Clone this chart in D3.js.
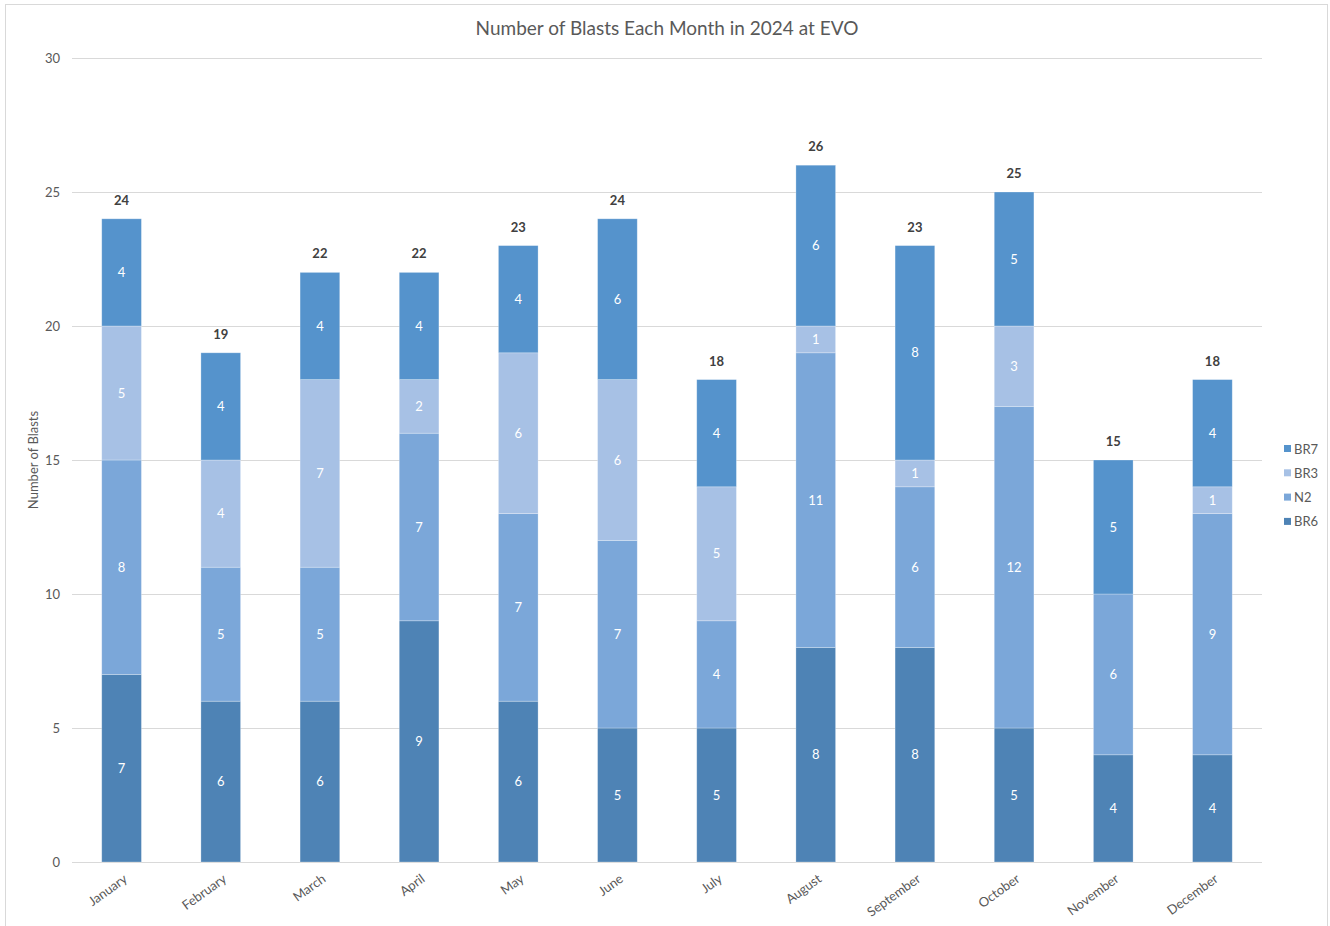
<!DOCTYPE html>
<html>
<head>
<meta charset="utf-8">
<script src="https://cdn.jsdelivr.net/npm/d3@7"></script>
<style>
body { margin: 0; background: #fff; font-family: Lato, 'Noto Sans', sans-serif; }
svg text { fill: #595959; }
</style>
</head>
<body>
<svg id="chart"></svg>
<script>
'use strict';
//Chart data.
const months = ['January', 'February', 'March', 'April', 'May', 'June', 'July', 'August', 'September', 'October', 'November', 'December'];
const seriesNames = ['BR6', 'N2', 'BR3', 'BR7']; //Bottom to top.
const br6 = [7, 6, 6, 9, 6, 5, 5, 8, 8, 5, 4, 4];
const n2 = [8, 5, 5, 7, 7, 7, 4, 11, 6, 12, 6, 9];
const br3 = [5, 4, 7, 2, 6, 6, 5, 1, 1, 3, 0, 1];
const br7 = [4, 4, 4, 4, 4, 6, 4, 6, 8, 5, 5, 4];
const yTicks = [0, 5, 10, 15, 20, 25, 30];

const colors = {BR6: '#4e83b5', N2: '#7ba7d9', BR3: '#a7c1e5', BR7: '#5593cc'};

const W = 1330, H = 926;
const svg = d3.select('#chart').attr('width', W).attr('height', H);

//Outer chart border.
svg.append('rect')
	.attr('x', 5.5).attr('y', 4.5)
	.attr('width', 1322).attr('height', 940)
	.style('fill', 'none')
	.style('stroke', '#d9d9d9')
	.style('stroke-width', '1px');

const plot = {left: 72, right: 1262, top: 58, bottom: 862};

//Build table rows for the stack.
const rows = months.map((m, i) => ({month: m, BR6: br6[i], N2: n2[i], BR3: br3[i], BR7: br7[i]}));
const stacked = d3.stack().keys(seriesNames)(rows);

const x = d3.scaleBand().domain(months).range([plot.left, plot.right]).paddingInner(0.6).paddingOuter(0.3);
const y = d3.scaleLinear().domain([0, 30]).range([plot.bottom, plot.top]);

//Grid lines.
svg.append('g')
	.selectAll('line')
	.data(yTicks)
	.join('line')
	.attr('x1', plot.left).attr('x2', plot.right)
	.attr('y1', d => y(d) + 0.5).attr('y2', d => y(d) + 0.5)
	.style('stroke', '#d9d9d9')
	.style('stroke-width', '1px');

//Y tick labels.
svg.append('g')
	.selectAll('text')
	.data(yTicks)
	.join('text')
	.attr('x', 60)
	.attr('y', d => y(d))
	.attr('dy', '0.35em')
	.attr('text-anchor', 'end')
	.style('font-size', '13px')
	.text(d => d);

//Bars.
const layers = svg.append('g')
	.selectAll('g')
	.data(stacked)
	.join('g')
	.style('fill', d => colors[d.key]);
layers.selectAll('rect')
	.data(d => d)
	.join('rect')
	.attr('x', d => x(d.data.month))
	.attr('width', x.bandwidth())
	.attr('y', d => y(d[1]))
	.attr('height', d => y(d[0]) - y(d[1]))
	.style('stroke', '#ffffff')
	.style('stroke-opacity', 0.35)
	.style('stroke-width', '0.75px');

//Segment labels, skipping zero segments.
layers.selectAll('text')
	.data(d => d.filter(s => s[1] - s[0] > 0))
	.join('text')
	.attr('x', d => x(d.data.month) + x.bandwidth() / 2)
	.attr('y', d => y((d[0] + d[1]) / 2))
	.attr('dy', '0.35em')
	.attr('text-anchor', 'middle')
	.style('font-size', '13px')
	.style('fill', '#ffffff')
	.text(d => d[1] - d[0]);

//Totals above bars.
svg.append('g')
	.selectAll('text')
	.data(rows)
	.join('text')
	.attr('x', d => x(d.month) + x.bandwidth() / 2)
	.attr('y', d => y(d.BR6 + d.N2 + d.BR3 + d.BR7) - 14)
	.attr('text-anchor', 'middle')
	.style('font-size', '13px')
	.style('font-weight', 'bold')
	.style('fill', '#404040')
	.text(d => d.BR6 + d.N2 + d.BR3 + d.BR7);

//X labels, rotated.
svg.append('g')
	.selectAll('text')
	.data(months)
	.join('text')
	.attr('transform', d => `translate(${x(d) + x.bandwidth() / 2 + 4},${plot.bottom + 15}) rotate(-36)`)
	.attr('text-anchor', 'end')
	.attr('dy', '0.35em')
	.style('font-size', '13px')
	.text(d => d);

//Title.
svg.append('text')
	.attr('x', 667).attr('y', 35)
	.attr('text-anchor', 'middle')
	.style('font-size', '19px')
	.text('Number of Blasts Each Month in 2024 at EVO');

//Y axis title.
svg.append('text')
	.attr('transform', `translate(38,${(plot.top + plot.bottom) / 2}) rotate(-90)`)
	.attr('text-anchor', 'middle')
	.style('font-size', '13px')
	.text('Number of Blasts');

//Legend, top series first.
const legend = svg.append('g')
	.selectAll('g')
	.data(seriesNames.slice().reverse())
	.join('g')
	.attr('transform', (d, i) => `translate(1284,${449 + i * 24.3})`);
legend.append('rect')
	.attr('x', 0).attr('y', -4)
	.attr('width', 7).attr('height', 7)
	.style('fill', d => colors[d]);
legend.append('text')
	.attr('x', 10)
	.attr('dy', '0.35em')
	.style('font-size', '13px')
	.text(d => d);
</script>
</body>
</html>
